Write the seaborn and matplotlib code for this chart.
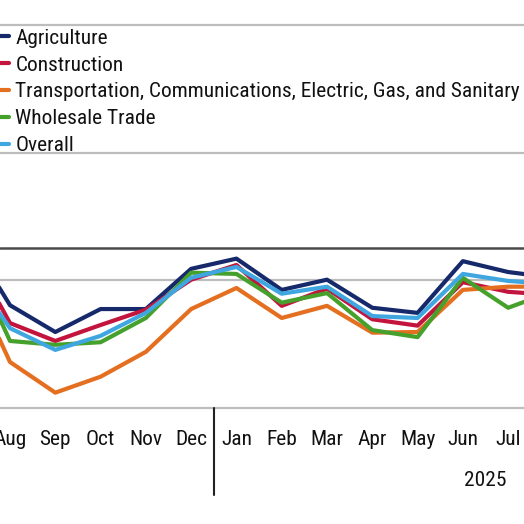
import pandas as pd
import matplotlib
matplotlib.use("Agg")
import matplotlib.pyplot as plt
from matplotlib import font_manager
import seaborn as sns

# monthly series, Jul 2024 .. Aug 2025 (ends are cut off by the frame)
months = ["Jul", "Aug", "Sep", "Oct", "Nov", "Dec", "Jan", "Feb", "Mar",
          "Apr", "May", "Jun", "Jul", "Aug"]
agriculture = [2.77, 1.61, 1.19, 1.55, 1.55, 2.18, 2.34, 1.85, 2.01, 1.57, 1.49, 2.30, 2.13, 2.04]
construction = [2.62, 1.33, 1.05, 1.30, 1.54, 2.01, 2.24, 1.60, 1.87, 1.39, 1.29, 1.97, 1.82, 1.77]
transport = [2.26, 0.72, 0.24, 0.49, 0.88, 1.55, 1.88, 1.41, 1.60, 1.18, 1.19, 1.85, 1.90, 1.90]
wholesale = [2.59, 1.05, 0.99, 1.03, 1.41, 2.12, 2.10, 1.65, 1.80, 1.22, 1.11, 2.04, 1.57, 1.83]
overall = [2.27, 1.25, 0.91, 1.13, 1.49, 2.04, 2.21, 1.79, 1.90, 1.44, 1.41, 2.10, 1.99, 1.94]

series_names = ["Agriculture", "Construction",
                "Transportation, Communications, Electric, Gas, and Sanitary",
                "Wholesale Trade", "Overall"]
colors = ["#15296b", "#c2143d", "#e46f20", "#46a12c", "#3fa6e0"]

rows = []
for name, vals in zip(series_names, [agriculture, construction, transport, wholesale, overall]):
    for i, v in enumerate(vals):
        rows.append({"idx": i, "value": v, "series": name})
df = pd.DataFrame(rows)

sns.set_style("white")

# a condensed face is closest to the original; fall back to Open Sans
family, FS, LS = "Open Sans", 13, 0.5
for cand in ["Roboto Condensed", "Liberation Sans Narrow", "Noto Sans Condensed"]:
    try:
        font_manager.findfont(cand, fallback_to_default=False)
        family, FS, LS = cand, 15.4, 0.365
        break
    except ValueError:
        pass
plt.rcParams["font.family"] = [family, "DejaVu Sans"]

fig = plt.figure(figsize=(5.24, 5.24), dpi=100)
ax = fig.add_axes([0, 0.2214, 1, 0.7309])

# gridlines and reference line
for g in [0, 2, 4, 6]:
    ax.axhline(g, color="#bdbdbd", lw=1.6, zorder=0, clip_on=False)
ax.axhline(2.5, color="#4a4a4a", lw=1.8, zorder=0)

sns.lineplot(data=df, x="idx", y="value", hue="series", palette=colors,
             linewidth=3, ax=ax, legend=True)

for s in ax.spines.values():
    s.set_visible(False)
ax.set_yticks([])
ax.set_xticks(range(len(months)))
ax.set_xticklabels(months, fontsize=FS, color="#111111")
ax.tick_params(axis="x", length=0, pad=15.5)
ax.set_xlabel("")
ax.set_ylabel("")
# frame crops off Jul 2024 and Aug 2025
ax.set_xlim(0.779, 12.35)
ax.set_ylim(0, 6)

# year separator and year label
ax.plot([5.5, 5.5], [0, -0.227], transform=ax.get_xaxis_transform(),
        color="#222222", lw=1.5, clip_on=False)
ax.text(11.49, -0.19, "2025", transform=ax.get_xaxis_transform(),
        ha="center", va="center", fontsize=FS, color="#111111")

leg = ax.legend(loc="upper left", bbox_to_anchor=(-17 / 524, 0.99), frameon=False,
                fontsize=FS, handlelength=26 / (FS * 1.389), handletextpad=0.3,
                labelspacing=LS, borderpad=0, borderaxespad=0)
for t in leg.get_texts():
    t.set_color("#111111")
for line in leg.get_lines():
    line.set_linewidth(3)

fig.savefig("out.png", dpi=100)
